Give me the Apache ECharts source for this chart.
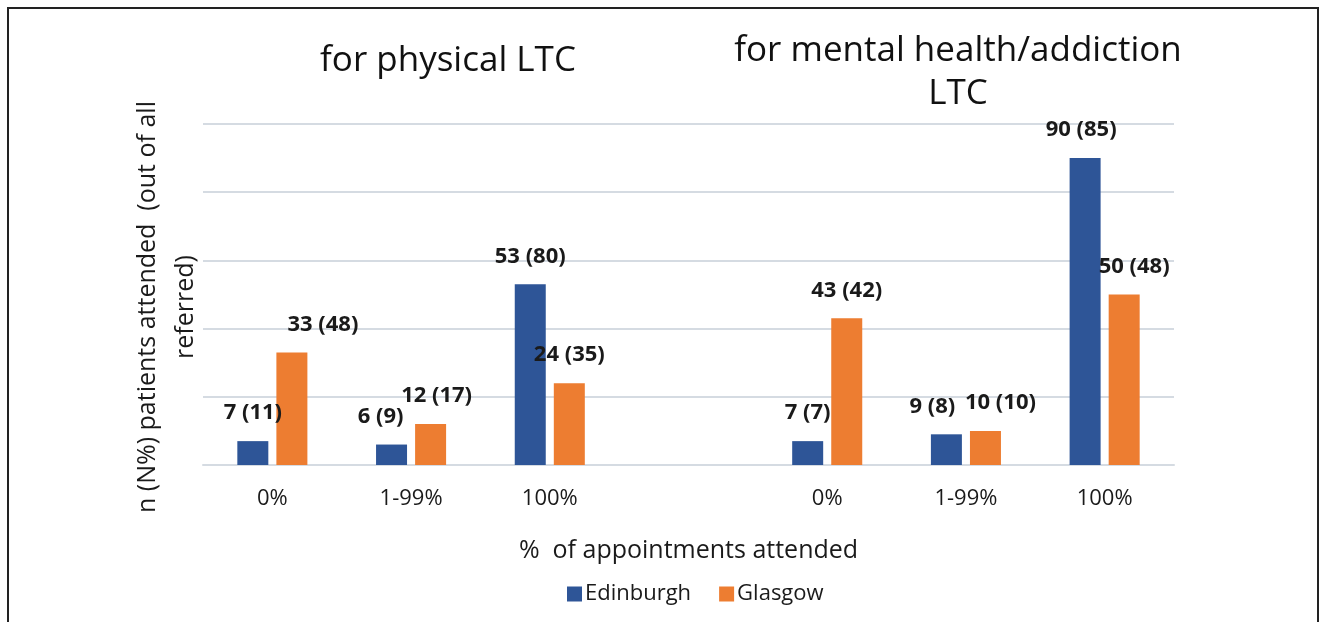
<!DOCTYPE html>
<html>
<head>
<meta charset="utf-8">
<script src="https://cdn.jsdelivr.net/npm/echarts@6/dist/echarts.min.js"></script>
<style>
  html, body { margin: 0; padding: 0; background: #fff; }
  #chart { width: 1321px; height: 622px; }
</style>
</head>
<body>
<div id="chart"></div>
<script>
// categories (4th slot is the empty gap between the two groups)
const categories = ['0%', '1-99%', '100%', '', '0%', '1-99%', '100%'];
// n patients
const edinburghN = [7, 6, 53, '-', 7, 9, 90];
const glasgowN = [33, 12, 24, '-', 43, 10, 50];
// (N%) shown in brackets
const edinburghPct = [11, 9, 80, null, 7, 8, 85];
const glasgowPct = [48, 17, 35, null, 42, 10, 48];
const yTicks = [0, 20, 40, 60, 80, 100];

// small horizontal nudges of the data labels, as in the original
const edinburghLabelDx = [0, -11, 0, 0, 0, -14, -4];
const glasgowLabelDx = [31, 6, 0, 0, 0, 15, 10];

const font = '"Open Sans", "Noto Sans", sans-serif';
const chart = echarts.init(document.getElementById('chart'));

const makeData = (vals, pct, dx) =>
  vals.map((v, i) => ({
    value: v,
    label: { offset: [dx[i], 0], formatter: v === '-' ? '' : v + ' (' + pct[i] + ')' }
  }));

const option = {
  animation: false,
  textStyle: { fontFamily: font },
  grid: { left: 203, right: 147, top: 124, bottom: 157 },
  legend: {
    data: ['Edinburgh', 'Glasgow'],
    top: 578,
    left: 562,
    itemWidth: 15,
    itemHeight: 15,
    itemGap: 28,
    icon: 'rect',
    textStyle: { fontFamily: font, fontSize: 22, color: '#1a1a1a', padding: [0, 0, 0, -2] }
  },
  xAxis: {
    type: 'category',
    data: categories,
    name: '%  of appointments attended',
    nameLocation: 'middle',
    nameGap: 73,
    nameTextStyle: { fontFamily: font, fontSize: 25, color: '#1a1a1a' },
    axisLine: { lineStyle: { color: '#d5dbe2', width: 2 } },
    axisTick: { show: false },
    axisLabel: { margin: 23, fontFamily: font, fontSize: 22, color: '#1a1a1a' }
  },
  yAxis: {
    type: 'value',
    min: yTicks[0],
    max: yTicks[yTicks.length - 1],
    interval: 20,
    axisLine: { show: false },
    axisTick: { show: false },
    axisLabel: { show: false },
    splitLine: { lineStyle: { color: '#d5dbe2', width: 2 } }
  },
  series: [
    {
      name: 'Edinburgh',
      type: 'bar',
      barWidth: 31,
      barGap: '26%',
      itemStyle: { color: '#2e5597' },
      label: {
        show: true, position: 'top', distance: 17,
        fontFamily: font, fontSize: 22, fontWeight: 'bold', color: '#1a1a1a'
      },
      data: makeData(edinburghN, edinburghPct, edinburghLabelDx)
    },
    {
      name: 'Glasgow',
      type: 'bar',
      barWidth: 31,
      itemStyle: { color: '#ed7d31' },
      label: {
        show: true, position: 'top', distance: 17,
        fontFamily: font, fontSize: 22, fontWeight: 'bold', color: '#1a1a1a'
      },
      data: makeData(glasgowN, glasgowPct, glasgowLabelDx)
    }
  ],
  graphic: [
    {
      type: 'rect',
      shape: { x: 8, y: 8, width: 1310, height: 640 },
      style: { fill: 'none', stroke: '#222', lineWidth: 2 },
      silent: true
    },
    {
      type: 'text', x: 448, y: 61,
      style: {
        text: 'for physical LTC', textAlign: 'center', textVerticalAlign: 'middle',
        fontFamily: font, fontSize: 35, fill: '#111'
      }
    },
    {
      type: 'text', x: 958, y: 73,
      style: {
        text: 'for mental health/addiction\nLTC', textAlign: 'center', textVerticalAlign: 'middle',
        fontFamily: font, fontSize: 35, lineHeight: 43, fill: '#111'
      }
    },
    {
      type: 'text', x: 167, y: 307, rotation: Math.PI / 2,
      style: {
        text: 'n (N%) patients attended  (out of all\nreferred)',
        textAlign: 'center', textVerticalAlign: 'middle',
        fontFamily: font, fontSize: 25, lineHeight: 38, fill: '#1a1a1a'
      }
    }
  ]
};

chart.setOption(option);
</script>
</body>
</html>
